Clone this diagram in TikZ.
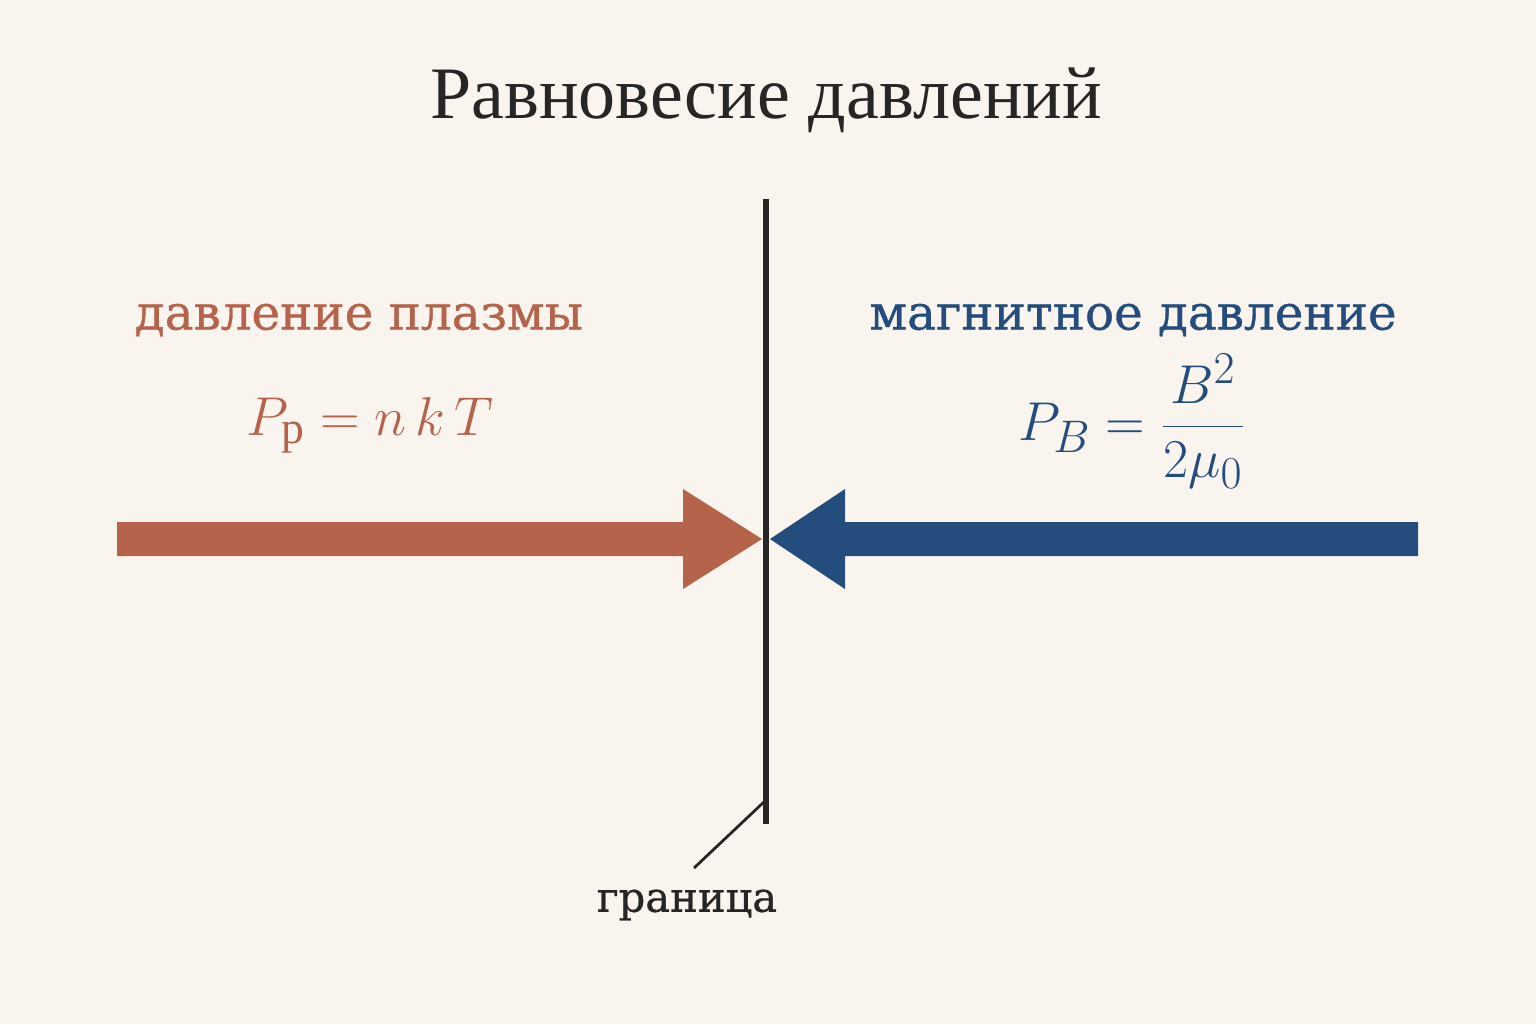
\documentclass[tikz,border=0pt]{standalone}
\usepackage{fontspec}
\setmainfont{Liberation Serif}
\newfontfamily\labelfont[FakeBold=0.7]{DejaVu Serif}
\usetikzlibrary{%
	positioning,
	calc
}
\definecolor{bgcream}{HTML}{F9F5EE}
\definecolor{plasmared}{HTML}{B5634B}
\definecolor{magblue}{HTML}{244C7C}
\definecolor{inkgray}{HTML}{262626}
\newcommand{\bigmath}[1]{\scalebox{1.1}{#1}}

\begin{document}
\begin{tikzpicture}[
		x=0.5pt,y=-0.5pt,
		title/.style={text=inkgray,font=\fontsize{37}{44}\selectfont,inner sep=0pt},
		side/.style={font=\labelfont\fontsize{24.2}{29}\selectfont,inner sep=0pt},
		formula/.style={font=\fontsize{24.88}{30}\selectfont,inner sep=0pt},
		wall/.style={draw=inkgray,line width=3pt},
		pointer/.style={draw=inkgray,line width=1.4pt}
	]
	
	\fill[bgcream] (0,0) rectangle (1536,1024);
	\useasboundingbox (0,0) rectangle (1536,1024);
	
	\node(Title) [title] at (766,100) {Равновесие давлений};
	
	\node(plasma) [side, text=plasmared] at (359,320) {давление плазмы};
	\node(magnetic) [side, text=magblue] at (1133,320) {магнитное давление};
	
	\node(Pp) [formula, text=plasmared] at (370,425) {\bigmath{$P_{\mathrm{p}} = n\,k\,T$}};
	\node(PB) [formula, text=magblue] at (1132,421) {\bigmath{$\displaystyle P_B = \frac{B^2}{2\mu_0}$}};
	
	%arrows
	\fill[plasmared] (117,522) -- (683,522) -- (683,489) -- (762,539) -- (683,589) -- (683,556) -- (117,556) -- cycle;
	\fill[magblue] (1418,522) -- (845,522) -- (845,489) -- (770,539) -- (845,589) -- (845,556) -- (1418,556) -- cycle;
	
	%boundary
	\coordinate(wall-top) at (766,199);
	\coordinate(wall-bot) at (766,824);
	\coordinate(wall-mark) at (766,800);
	\draw[wall] (wall-top) -- (wall-bot);
	
	\node(border) [side, font=\labelfont\fontsize{20.8}{25}\selectfont, text=inkgray] at (687,905) {граница};
	\coordinate(pointer-end) at (694,868);
	\draw[pointer] (wall-mark) -- (pointer-end);
	
\end{tikzpicture}
\end{document}
